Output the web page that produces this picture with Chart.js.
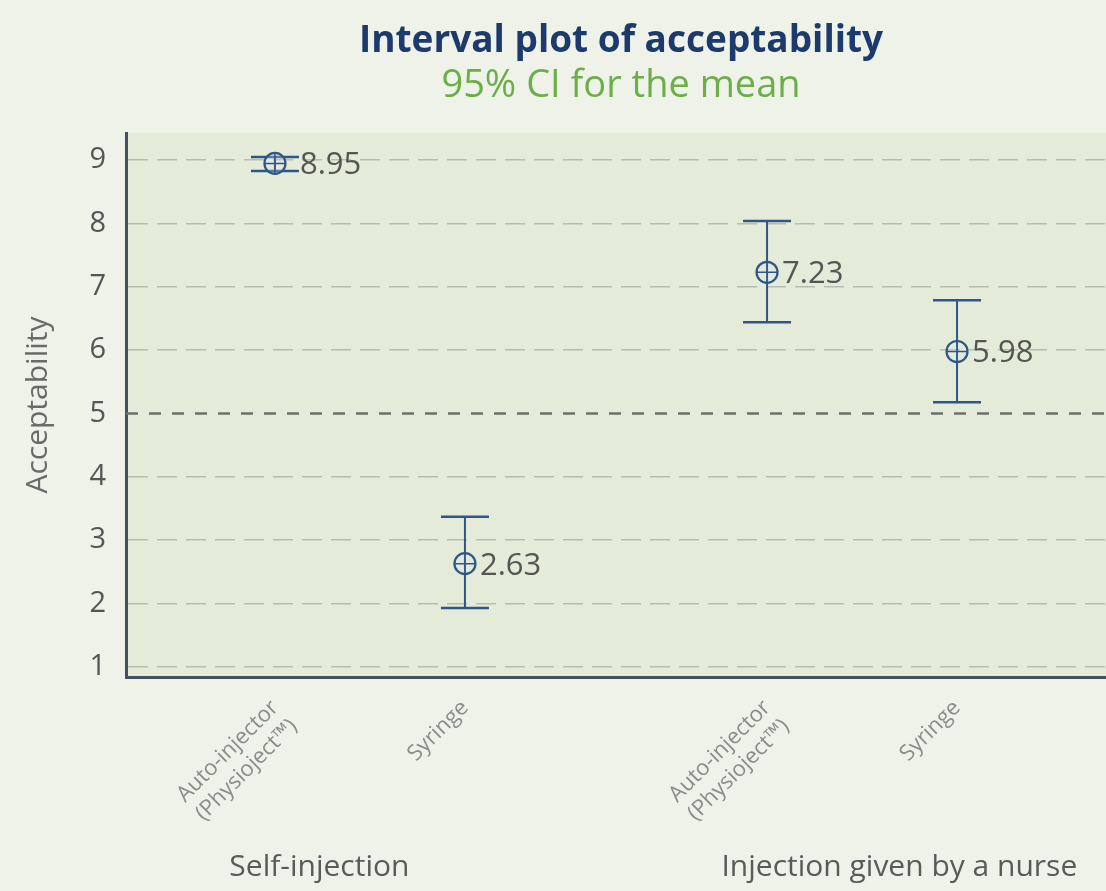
<!DOCTYPE html>
<html>
<head>
<meta charset="utf-8">
<title>Interval plot of acceptability</title>
<script src="https://cdn.jsdelivr.net/npm/chart.js@4.4.1/dist/chart.umd.min.js"></script>
<style>
  html, body { margin: 0; padding: 0; background: #eef2e9; }
  #wrap { width: 1106px; height: 891px; position: relative; }
</style>
</head>
<body>
<div id="wrap"><canvas id="chart" width="1106" height="891"></canvas></div>
<script>
// Groups (administration mode) and devices within each group
const groups = ['Self-injection', 'Injection given by a nurse'];
const devices = [['Auto-injector', '(Physioject™)'], 'Syringe'];

// Mean acceptability and 95% CI bounds, in group/device order
const means   = [8.95, 2.63, 7.23, 5.98];
const ciLower = [8.83, 1.93, 6.44, 5.18];
const ciUpper = [9.05, 3.37, 8.04, 6.79];

// Y-axis tick values and the reference level
const yTicks = [1, 2, 3, 4, 5, 6, 7, 8, 9];
const referenceLevel = 5;

// Layout on the linear x axis: each group starts GROUP_STEP units after the previous one
const GROUP_STEP = 2.59;
const X_MIN = -0.784, X_MAX = 4.374;
const positions = [];
const tickNames = [];
groups.forEach((g, gi) => {
  devices.forEach((d, di) => {
    positions.push(gi * GROUP_STEP + di);
    tickNames.push(d);
  });
});

const NAVY = '#2e5686';
const FONT = "'Open Sans', Lato, sans-serif";

const ciLineData = [];
const capData = [];
const meanData = [];
positions.forEach((x, i) => {
  ciLineData.push({ x: x, y: ciLower[i] }, { x: x, y: ciUpper[i] }, { x: x, y: null });
  capData.push({ x: x, y: ciLower[i] }, { x: x, y: ciUpper[i] });
  meanData.push({ x: x, y: means[i] });
});

// Fills the page and the plotting region with their tinted backgrounds
const plotBackground = {
  id: 'plotBackground',
  beforeDraw(chart) {
    const { ctx, chartArea: a } = chart;
    ctx.save();
    ctx.fillStyle = '#eef2e9';
    ctx.fillRect(0, 0, chart.width, chart.height);
    ctx.fillStyle = '#e4ebd8';
    ctx.fillRect(a.left, a.top, a.right - a.left, a.bottom - a.top);
    ctx.restore();
  }
};

// Heading, value labels and group captions
const annotations = {
  id: 'annotations',
  afterDatasetsDraw(chart) {
    const { ctx, scales: { x, y }, chartArea: a } = chart;
    ctx.save();
    ctx.textBaseline = 'alphabetic';
    // value labels next to each mean
    ctx.font = `31px ${FONT}`;
    ctx.fillStyle = '#555555';
    ctx.textAlign = 'left';
    means.forEach((m, i) => {
      const px = x.getPixelForValue(positions[i]);
      const py = y.getPixelForValue(m);
      const span = y.getPixelForValue(ciLower[i]) - y.getPixelForValue(ciUpper[i]);
      const offset = span < 24 ? 25 : 15;
      ctx.fillText(m.toFixed(2), px + offset, py + 11);
    });
    // group captions below the device labels
    ctx.font = `30px ${FONT}`;
    ctx.fillStyle = '#5a5a5a';
    groups.forEach((g, gi) => {
      const px = x.getPixelForValue(gi * GROUP_STEP - 0.24);
      ctx.fillText(g, px, 876);
    });
    // heading
    const cx = (a.left + a.right) / 2 + 5;
    ctx.textAlign = 'center';
    ctx.font = `bold 37px ${FONT}`;
    ctx.fillStyle = '#1c3a6c';
    ctx.fillText('Interval plot of acceptability', cx, 52);
    ctx.font = `38px ${FONT}`;
    ctx.fillStyle = '#6cae48';
    ctx.fillText('95% CI for the mean', cx, 97);
    ctx.restore();
  }
};

new Chart(document.getElementById('chart'), {
  type: 'scatter',
  data: {
    datasets: [
      {
        label: 'Mean',
        data: meanData,
        pointStyle: 'circle',
        pointRadius: 10.5,
        pointBorderWidth: 2.2,
        pointBorderColor: NAVY,
        pointBackgroundColor: 'rgba(220,232,240,0.25)',
        order: 1
      },
      {
        label: 'Mean cross',
        data: meanData,
        pointStyle: 'cross',
        pointRadius: 10.5,
        pointBorderWidth: 1.5,
        pointBorderColor: NAVY,
        order: 0
      },
      {
        label: 'CI caps',
        data: capData,
        pointStyle: 'line',
        pointRadius: 24,
        pointBorderWidth: 2.5,
        pointBorderColor: NAVY,
        order: 2
      },
      {
        label: 'CI',
        data: ciLineData,
        showLine: true,
        spanGaps: false,
        borderColor: NAVY,
        borderWidth: 2,
        pointRadius: 0,
        order: 3
      },
      {
        label: 'Reference',
        data: [{ x: X_MIN, y: referenceLevel }, { x: X_MAX, y: referenceLevel }],
        showLine: true,
        borderColor: '#6c716b',
        borderWidth: 2.5,
        borderDash: [12, 11],
        pointRadius: 0,
        order: 4
      }
    ]
  },
  options: {
    responsive: false,
    animation: false,
    layout: { autoPadding: false, padding: { top: 133, right: 0, bottom: 0, left: 0 } },
    plugins: {
      legend: { display: false },
      tooltip: { enabled: false }
    },
    scales: {
      x: {
        type: 'linear',
        min: X_MIN,
        max: X_MAX,
        afterBuildTicks(scale) {
          scale.ticks = positions.map(v => ({ value: v }));
        },
        afterFit(scale) {
          scale.height = 214;
          scale.paddingLeft = 0;
          scale.paddingRight = 0;
        },
        grid: { display: false, drawTicks: false },
        border: { display: true, color: '#44505f', width: 3 },
        ticks: {
          autoSkip: false,
          minRotation: 45,
          maxRotation: 45,
          padding: 18,
          color: '#8c8c8c',
          font: { family: FONT, size: 22 },
          callback: (v, i) => tickNames[i]
        }
      },
      y: {
        type: 'linear',
        min: 0.84,
        max: 9.43,
        afterBuildTicks(scale) {
          scale.ticks = yTicks.map(v => ({ value: v }));
        },
        afterFit(scale) { scale.width = 126; },
        grid: {
          drawTicks: false,
          color: c => (c.tick && c.tick.value === referenceLevel) ? 'rgba(0,0,0,0)' : '#b7bcb0',
          lineWidth: 1.5
        },
        border: { display: true, color: '#44505f', width: 3, dash: [20, 9] },
        ticks: {
          padding: 20,
          color: '#555555',
          font: { family: FONT, size: 29 },
          callback: v => String(v)
        },
        title: {
          display: true,
          text: 'Acceptability',
          color: '#6a6a6a',
          font: { family: FONT, size: 30 },
          padding: { top: 20, bottom: 0 }
        }
      }
    }
  },
  plugins: [plotBackground, annotations]
});
</script>
</body>
</html>
